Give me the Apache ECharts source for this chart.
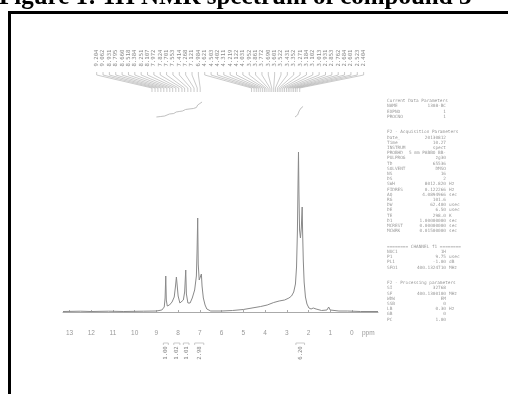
<!DOCTYPE html>
<html>
<head>
<meta charset="utf-8">
<script src="https://cdn.jsdelivr.net/npm/echarts@6/dist/echarts.min.js"></script>
<style>
html, body { margin: 0; padding: 0; background: #fff; }
#chart { width: 508px; height: 394px; }
</style>
</head>
<body>
<div id="chart"></div>
<script>
// 1H trace: [ppm, intensity]
const spectrum = [
  [13.3, 0.5], [12.5, 0.8], [12, 0.5], [11.2, 0.8], [10.5, 0.5], [9.6, 0.8], [9.0, 1], [8.75, 2],
  [8.64, 5], [8.6, 14], [8.57, 36], [8.545, 12], [8.5, 6], [8.4, 7], [8.28, 10], [8.18, 15],
  [8.12, 26], [8.08, 35], [8.05, 28], [8.0, 16], [7.92, 9], [7.84, 8], [7.76, 12], [7.7, 20],
  [7.65, 42], [7.62, 18], [7.55, 9], [7.45, 9], [7.35, 14], [7.24, 22], [7.16, 36], [7.13, 60],
  [7.10, 94], [7.075, 48], [7.03, 32], [6.97, 34], [6.93, 38], [6.9, 26], [6.84, 14], [6.76, 7],
  [6.68, 3], [6.5, 1], [6.0, 1], [5.5, 1.5], [5.0, 2.5], [4.6, 4], [4.2, 5.5], [3.9, 7],
  [3.6, 9.5], [3.35, 11], [3.1, 12], [2.9, 14], [2.78, 16], [2.68, 20], [2.6, 28], [2.55, 45],
  [2.51, 80], [2.48, 130], [2.46, 160], [2.44, 120], [2.41, 82], [2.37, 74], [2.33, 84], [2.31, 95],
  [2.29, 105], [2.27, 80], [2.24, 52], [2.2, 30], [2.14, 15], [2.07, 8], [1.98, 4], [1.88, 3],
  [1.78, 4], [1.72, 5], [1.65, 3], [1.4, 1.5], [1.15, 2], [1.07, 5], [1.0, 2], [0.6, 1],
  [0.2, 1], [-0.4, 0.5], [-1.2, 0.5]
];

const ppmTicks = [13, 12, 11, 10, 9, 8, 7, 6, 5, 4, 3, 2, 1, 0];
const unitTick = -0.75;

// peak list printed above the spectrum
const peakList = [
  9.204, 9.062, 8.931, 8.795, 8.660, 8.518, 8.384, 8.251, 8.107, 7.972, 7.824, 7.701, 7.553,
  7.414, 7.268, 7.121, 6.984,
  4.621, 4.503, 4.402, 4.311, 4.219, 4.122, 4.031, 3.952, 3.861, 3.772, 3.690, 3.601, 3.522,
  3.431, 3.352, 3.271, 3.184, 3.102, 3.013, 2.931, 2.853, 2.762, 2.684, 2.601, 2.523, 2.404
];

// integral traces drawn above the trace
const integralLeft = [
  [9.0, 195], [8.8, 195.5], [8.62, 196], [8.56, 197.5], [8.4, 198], [8.2, 198.5], [8.09, 200],
  [7.95, 200.5], [7.8, 201], [7.66, 202.5], [7.5, 203], [7.3, 203.5], [7.16, 204.5], [7.1, 207],
  [7.0, 208.5], [6.9, 210]
];
const integralRight = [[2.62, 195], [2.5, 197], [2.43, 201], [2.34, 204], [2.25, 205.5]];

// integrals printed under the axis: [from ppm, to ppm, value]
const integrals = [
  [8.68, 8.45, '1.00'], [8.2, 7.92, '1.02'], [7.76, 7.5, '1.01'], [7.24, 6.82, '2.98'],
  [2.58, 2.18, '6.20']
];

// acquisition / processing parameter block: [name, value, unit]
const paramLines = [
  ['Current Data Parameters'], ['NAME', '1308-BC'], ['EXPNO', '1'], ['PROCNO', '1'], [''], [''],
  ['F2 - Acquisition Parameters'], ['Date_', '20130812'], ['Time', '10.27'], ['INSTRUM', 'spect'],
  ['PROBHD', '5 mm PABBO BB-'], ['PULPROG', 'zg30'], ['TD', '65536'], ['SOLVENT', 'DMSO'],
  ['NS', '16'], ['DS', '2'], ['SWH', '8012.820', 'Hz'], ['FIDRES', '0.122266', 'Hz'],
  ['AQ', '4.0894966', 'sec'], ['RG', '101.6'], ['DW', '62.400', 'usec'], ['DE', '6.50', 'usec'],
  ['TE', '298.0', 'K'], ['D1', '1.00000000', 'sec'], ['MCREST', '0.00000000', 'sec'],
  ['MCWRK', '0.01500000', 'sec'], [''], [''],
  ['======== CHANNEL f1 ========'], ['NUC1', '1H'], ['P1', '9.75', 'usec'], ['PL1', '-1.00', 'dB'],
  ['SFO1', '400.1324710', 'MHz'], [''], [''],
  ['F2 - Processing parameters'], ['SI', '32768'], ['SF', '400.1300100', 'MHz'], ['WDW', 'EM'],
  ['SSB', '0'], ['LB', '0.30', 'Hz'], ['GB', '0'], ['PC', '1.00']
];

const chart = echarts.init(document.getElementById('chart'));

const labelStart = 11.75;
const labelStep = 0.2926;
const grey = '#8a8a8a';

const paramGraphics = [];
paramLines.forEach((ln, i) => {
  const y = 101 + i * 5.2;
  const font = '4.4px "DejaVu Sans Mono", monospace';
  if (ln[0]) {
    paramGraphics.push({ type: 'text', x: 387, y: y, style: { text: ln[0], font: font, fill: '#999', verticalAlign: 'middle' } });
  }
  if (ln[1]) {
    paramGraphics.push({ type: 'text', x: 446, y: y, style: { text: ln[1], font: font, fill: '#999', align: 'right', verticalAlign: 'middle' } });
  }
  if (ln[2]) {
    paramGraphics.push({ type: 'text', x: 449, y: y, style: { text: ln[2], font: font, fill: '#999', verticalAlign: 'middle' } });
  }
});

const option = {
  animation: false,
  backgroundColor: '#fff',
  grid: { left: 63, right: 130, top: 100, bottom: 69 },
  xAxis: {
    type: 'value',
    inverse: true,
    min: -1.2,
    max: 13.3,
    splitLine: { show: false },
    axisLine: { lineStyle: { color: '#aaa', width: 1 } },
    axisTick: { inside: true, length: 2, lineStyle: { color: '#aaa' }, customValues: ppmTicks },
    axisLabel: {
      customValues: ppmTicks.concat([unitTick]),
      color: '#999',
      fontSize: 6.5,
      margin: 5,
      formatter: v => (v === unitTick ? 'ppm' : String(v))
    }
  },
  yAxis: {
    type: 'value',
    min: -13,
    max: 212,
    show: false
  },
  series: [
    {
      type: 'line',
      data: spectrum,
      showSymbol: false,
      lineStyle: { color: grey, width: 1 }
    },
    {
      type: 'line',
      data: integralLeft,
      showSymbol: false,
      clip: false,
      lineStyle: { color: '#b0b0b0', width: 0.8 }
    },
    {
      type: 'line',
      data: integralRight,
      showSymbol: false,
      clip: false,
      lineStyle: { color: '#b0b0b0', width: 0.8 }
    },
    {
      type: 'custom',
      clip: false,
      data: peakList.map((p, i) => [i, p]),
      encode: { x: 1 },
      renderItem: (params, api) => {
        const i = api.value(0);
        const p = api.value(1);
        const lx = api.coord([labelStart - i * labelStep, 0])[0];
        const px = api.coord([p, 0])[0];
        return {
          type: 'group',
          children: [
            {
              type: 'text',
              x: lx, y: 58, rotation: Math.PI / 2,
              style: { text: p.toFixed(3), font: '5.6px "DejaVu Sans Mono", monospace', fill: '#8c8c8c', align: 'center', verticalAlign: 'middle' }
            },
            {
              type: 'polyline',
              shape: { points: [[lx, 72], [lx, 75], [px, 88], [px, 92]] },
              style: { stroke: '#b5b5b5', lineWidth: 0.7, fill: null }
            }
          ]
        };
      }
    },
    {
      type: 'custom',
      clip: false,
      data: integrals.map(d => [d[0], d[1]]),
      encode: { x: [0, 1] },
      renderItem: (params, api) => {
        const d = integrals[params.dataIndex];
        const x1 = api.coord([d[0], 0])[0];
        const x2 = api.coord([d[1], 0])[0];
        const cx = (x1 + x2) / 2;
        return {
          type: 'group',
          children: [
            {
              type: 'polyline',
              shape: { points: [[x1, 345], [x1, 343], [x2, 343], [x2, 345]] },
              style: { stroke: '#b5b5b5', lineWidth: 0.7, fill: null }
            },
            {
              type: 'text',
              x: cx, y: 353, rotation: Math.PI / 2,
              style: { text: d[2], font: '5.6px "DejaVu Sans Mono", monospace', fill: '#888', align: 'center', verticalAlign: 'middle' }
            }
          ]
        };
      }
    }
  ],
  graphic: [
    {
      type: 'text',
      x: -1, y: 10,
      style: {
        text: 'Figure 1: 1H NMR spectrum of compound 3',
        font: 'bold 25px "Liberation Serif", serif',
        fill: '#000',
        verticalAlign: 'bottom'
      }
    },
    {
      type: 'rect',
      shape: { x: 9.5, y: 12.5, width: 520, height: 420 },
      style: { stroke: '#000', lineWidth: 3, fill: null }
    },
    { type: 'group', children: paramGraphics }
  ]
};

chart.setOption(option);
</script>
</body>
</html>
